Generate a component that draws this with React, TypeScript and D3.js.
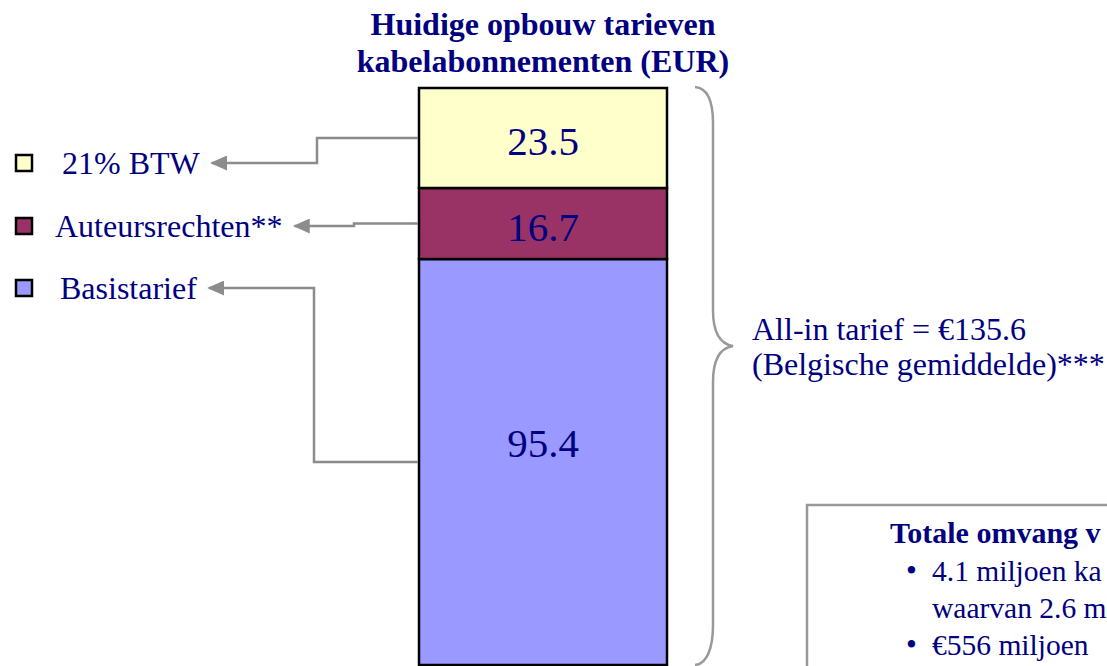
import * as d3 from 'd3';
import { useEffect, useRef } from 'react';

// data, top of the stack first
const categories = ['21% BTW', 'Auteursrechten**', 'Basistarief'];
const values = [23.5, 16.7, 95.4];
const colors = ['#FFFFCC', '#993366', '#9999FF'];
const titleLines = ['Huidige opbouw tarieven', 'kabelabonnementen (EUR)'];
const totalLines = ['All-in tarief = €135.6', '(Belgische gemiddelde)***'];
// the box runs off the slide, only the visible part is kept
const boxTitle = 'Totale omvang v';
const boxBullets = [
  ['4.1 miljoen ka', 'waarvan 2.6 m'],
  ['€556 miljoen'],
];

// layout
const W = 1107;
const H = 666;
const NAVY = '#000080';
const GREY = '#8c8c8c';
const FONT = "'Liberation Serif', 'Times New Roman', serif";
const legendRowY = [163, 226, 288];
const legendTextX = [62, 55, 60];
const elbowX = [317, 354, 314];

const App = () => {
  const svgRef = useRef(null);

  useEffect(() => {
    const svg = d3.select(svgRef.current);
    svg.selectAll('*').remove();

    const total = d3.sum(values);
    const x = d3.scaleBand().domain(['kabel']).range([419, 667]).padding(0);
    const y = d3.scaleLinear().domain([0, total]).range([665, 88]);

    // stack bottom-up: Basistarief first
    const rows = categories.map((c, i) => ({ c, v: values[i], color: colors[i], i }));
    const order = rows.slice().reverse();
    let acc = 0;
    const segs = order.map(r => {
      const s = { ...r, y0: acc, y1: acc + r.v };
      acc += r.v;
      return s;
    });

    const defs = svg.append('defs');
    defs.append('marker')
      .attr('id', 'arrow')
      .attr('viewBox', '0 0 10 10')
      .attr('refX', 9)
      .attr('refY', 5)
      .attr('markerUnits', 'userSpaceOnUse')
      .attr('markerWidth', 17)
      .attr('markerHeight', 15)
      .attr('preserveAspectRatio', 'none')
      .attr('orient', 'auto')
      .append('path')
      .attr('d', 'M0,0 L10,5 L0,10 Z')
      .attr('fill', GREY);

    // title
    svg.append('g')
      .selectAll('text')
      .data(titleLines)
      .enter()
      .append('text')
      .attr('x', x('kabel') + x.bandwidth() / 2)
      .attr('y', (d, i) => 35 + i * 37)
      .attr('text-anchor', 'middle')
      .style('font-family', FONT)
      .style('font-weight', 'bold')
      .style('font-size', '32px')
      .style('fill', NAVY)
      .text(d => d);

    // bar segments
    svg.selectAll('.seg')
      .data(segs)
      .enter()
      .append('rect')
      .attr('class', 'seg')
      .attr('x', x('kabel'))
      .attr('y', d => y(d.y1))
      .attr('width', x.bandwidth())
      .attr('height', d => y(d.y0) - y(d.y1))
      .style('fill', d => d.color)
      .style('stroke', '#000')
      .style('stroke-width', 2.5);

    svg.selectAll('.val')
      .data(segs)
      .enter()
      .append('text')
      .attr('class', 'val')
      .attr('x', x('kabel') + x.bandwidth() / 2)
      .attr('y', d => Math.min((y(d.y0) + y(d.y1)) / 2 + 17, y(d.y1) + 198))
      .attr('text-anchor', 'middle')
      .style('font-family', FONT)
      .style('font-size', '41px')
      .style('fill', NAVY)
      .text(d => d3.format('.1f')(d.v));

    // legend
    const leg = svg.append('g');
    leg.selectAll('rect')
      .data(rows)
      .enter()
      .append('rect')
      .attr('x', 16)
      .attr('y', d => legendRowY[d.i] - 8)
      .attr('width', 16)
      .attr('height', 16)
      .style('fill', d => d.color)
      .style('stroke', '#000')
      .style('stroke-width', 2.5);

    const labels = leg.selectAll('text')
      .data(rows)
      .enter()
      .append('text')
      .attr('x', d => legendTextX[d.i])
      .attr('y', d => legendRowY[d.i] + 11)
      .style('font-family', FONT)
      .style('font-size', '32px')
      .style('fill', NAVY)
      .text(d => d.c);

    // connectors from the segment middles to the legend labels
    const ends = labels.nodes().map((n, i) => legendTextX[i] + n.getComputedTextLength() + 12);
    svg.append('g')
      .selectAll('path')
      .data(segs)
      .enter()
      .append('path')
      .attr('d', d => {
        const sy = (y(d.y0) + y(d.y1)) / 2;
        const ex = elbowX[d.i];
        const ly = legendRowY[d.i];
        return `M${x('kabel') - 1},${sy} H${ex} V${ly} H${ends[d.i]}`;
      })
      .style('fill', 'none')
      .style('stroke', GREY)
      .style('stroke-width', 2.5)
      .attr('marker-end', 'url(#arrow)');

    // brace around the whole bar
    const top = y(total) - 1;
    const bot = y(0);
    const tipY = 346;
    svg.append('path')
      .attr('d', `M695,${top} C707,${top + 1} 713,${top + 13} 713,${top + 36}
        L713,${tipY - 36} C713,${tipY - 14} 720,${tipY - 2} 733,${tipY}
        C720,${tipY + 2} 713,${tipY + 14} 713,${tipY + 36}
        L713,${bot - 40} C713,${bot - 17} 707,${bot - 1} 695,${bot}`)
      .style('fill', 'none')
      .style('stroke', '#999')
      .style('stroke-width', 2.5);

    svg.append('g')
      .selectAll('text')
      .data(totalLines)
      .enter()
      .append('text')
      .attr('x', 752)
      .attr('y', (d, i) => 340 + i * 35)
      .style('font-family', FONT)
      .style('font-size', '32px')
      .style('fill', NAVY)
      .text(d => d);

    // info box (runs off the page)
    const box = svg.append('g');
    box.append('rect')
      .attr('x', 807)
      .attr('y', 505)
      .attr('width', 600)
      .attr('height', 300)
      .style('fill', '#fff')
      .style('stroke', '#999')
      .style('stroke-width', 2.5);

    box.append('text')
      .attr('x', 890)
      .attr('y', 543)
      .style('font-family', FONT)
      .style('font-weight', 'bold')
      .style('font-size', '30px')
      .style('fill', NAVY)
      .text(boxTitle);

    let line = 0;
    boxBullets.forEach(b => {
      b.forEach((t, j) => {
        const ty = 581 + line * 37;
        if (j === 0) {
          box.append('text')
            .attr('x', 906)
            .attr('y', ty)
            .style('font-family', FONT)
            .style('font-size', '31px')
            .style('fill', NAVY)
            .text('•');
        }
        box.append('text')
          .attr('x', 932)
          .attr('y', ty)
          .style('font-family', FONT)
          .style('font-size', '29.5px')
          .style('fill', NAVY)
          .text(t);
        line++;
      });
    });
  }, []);

  return (
    <svg
      ref={svgRef}
      width={W}
      height={H}
      style={{ position: 'absolute', left: 0, top: 0, background: '#fff' }}
    ></svg>
  );
};

export default App;
